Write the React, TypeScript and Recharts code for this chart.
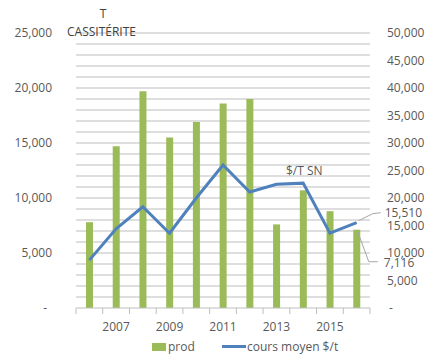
import { ComposedChart, Bar, Line, XAxis, YAxis, ReferenceLine, Legend, LabelList } from "recharts"

const years = ["2006", "2007", "2008", "2009", "2010", "2011", "2012", "2013", "2014", "2015", "2016"]
const prod = [7800, 14700, 19700, 15500, 16900, 18600, 19000, 7600, 10700, 8800, 7116]
const cours = [8700, 14400, 18400, 13600, 20000, 26000, 21100, 22500, 22700, 13600, 15510]
const leftTicks = [0, 1000, 2000, 3000, 4000, 5000, 6000, 7000, 8000, 9000, 10000, 11000, 12000, 13000, 14000, 15000, 16000, 17000, 18000, 19000, 20000, 21000, 22000, 23000, 24000, 25000]
const rightTicks = [0, 5000, 10000, 15000, 20000, 25000, 30000, 35000, 40000, 45000, 50000]

const data = years.map((y, i) => ({ year: y, prod: prod[i], cours: cours[i] }))

const GREEN = "#9BBB59"
const BLUE = "#4F81BD"
const TEXT = "#595959"
const GRID = "#BDBDBD"
const FONT = "'Open Sans', sans-serif"

// plot area is 76..370 wide, 11 categories
const BAND = (370 - 76) / years.length

function fmt(v: number) {
  if (v === 0) return "-"
  return new Intl.NumberFormat("en-US").format(v)
}

function XTick(props: any) {
  const { x, y, index, payload } = props
  const left = x - BAND / 2
  return (
    <g>
      <line x1={left} y1={y} x2={left} y2={y + 6} stroke={GRID} />
      {index === years.length - 1 && <line x1={x + BAND / 2} y1={y} x2={x + BAND / 2} y2={y + 6} stroke={GRID} />}
      {index % 2 === 1 && (
        <text x={x} y={y + 19} dy="0.35em" textAnchor="middle" fill={TEXT} fontSize={12} fontFamily={FONT}>
          {payload.value}
        </text>
      )}
    </g>
  )
}

function LeftTick(props: any) {
  const { x, y, payload } = props
  const v = payload.value
  if (v % 5000 !== 0) return null
  return (
    <text x={v === 0 ? x - 5 : x} y={y} dy="0.35em" textAnchor="end" fill={TEXT} fontSize={12} fontFamily={FONT}>
      {fmt(v)}
    </text>
  )
}

function RightTick(props: any) {
  const { x, y, payload } = props
  const v = payload.value
  return (
    <text x={v === 0 ? x + 2 : x} y={y} dy="0.35em" textAnchor="start" fill={TEXT} fontSize={12} fontFamily={FONT}>
      {fmt(v)}
    </text>
  )
}

function LineEndLabel(props: any) {
  const { x, y, index, value } = props
  if (index !== years.length - 1) return null
  return (
    <g>
      <polyline points={`${x + 2},${y - 2} ${x + 16},${y - 9} ${x + 24},${y - 10}`} fill="none" stroke="#A6A6A6" />
      <text x={x + 28} y={y - 10} dy="0.35em" fill={TEXT} fontSize={12} fontFamily={FONT}>
        {fmt(value)}
      </text>
    </g>
  )
}

function BarEndLabel(props: any) {
  const { x, y, width, index, value } = props
  if (index !== years.length - 1) return null
  const cx = x + width / 2
  return (
    <g>
      <polyline points={`${cx + 1},${y + 2} ${cx + 12},${y + 32} ${cx + 21},${y + 32}`} fill="none" stroke="#A6A6A6" />
      <text x={cx + 27} y={y + 33} dy="0.35em" fill={TEXT} fontSize={12} fontFamily={FONT}>
        {fmt(value)}
      </text>
    </g>
  )
}

function LegendContent() {
  return (
    <div style={{ height: 18, position: "relative", fontFamily: FONT, fontSize: 12, color: TEXT }}>
      <div style={{ position: "absolute", left: 152, top: 5, width: 14, height: 8, background: GREEN }} />
      <div style={{ position: "absolute", left: 168, top: 0, lineHeight: "18px" }}>prod</div>
      <div style={{ position: "absolute", left: 222, top: 7, width: 24, height: 3, background: BLUE }} />
      <div style={{ position: "absolute", left: 247, top: 0, lineHeight: "18px" }}>cours moyen $/t</div>
    </div>
  )
}

export default function App() {
  return (
    <div style={{ position: "absolute", left: 0, top: 0, width: 428, height: 357, background: "#fff" }}>
      <ComposedChart width={428} height={357} data={data} margin={{ top: 33, right: 0, bottom: 1, left: 0 }}>
        <XAxis
          dataKey="year"
          interval={0}
          tickSize={0}
          tickMargin={0}
          tickLine={false}
          axisLine={{ stroke: GRID }}
          height={30}
          tick={<XTick />}
        />
        <YAxis
          yAxisId="left"
          orientation="left"
          domain={[0, 25000]}
          ticks={leftTicks}
          interval={0}
          width={76}
          tickSize={0}
          tickMargin={24}
          tickLine={false}
          axisLine={false}
          tick={<LeftTick />}
        />
        <YAxis
          yAxisId="right"
          orientation="right"
          domain={[0, 50000]}
          ticks={rightTicks}
          interval={0}
          width={58}
          tickSize={0}
          tickMargin={17}
          tickLine={false}
          axisLine={false}
          tick={<RightTick />}
        />
        {/* grid: one line per 1,000 t on the left axis, kept behind the bars */}
        {leftTicks.slice(1).map((v) => (
          <ReferenceLine key={v} yAxisId="left" y={v} stroke={GRID} zIndex={-50} />
        ))}
        <Legend verticalAlign="bottom" content={<LegendContent />} wrapperStyle={{ left: 0, width: 428 }} />
        <Bar yAxisId="left" dataKey="prod" name="prod" fill={GREEN} barSize={7} isAnimationActive={false}>
          <LabelList dataKey="prod" content={<BarEndLabel />} />
        </Bar>
        <Line
          yAxisId="right"
          type="linear"
          dataKey="cours"
          name="cours moyen $/t"
          stroke={BLUE}
          strokeWidth={3}
          dot={false}
          activeDot={false}
          isAnimationActive={false}
        >
          <LabelList dataKey="cours" content={<LineEndLabel />} />
        </Line>
      </ComposedChart>
      <div style={{ position: "absolute", left: 73, top: 5, width: 60, textAlign: "center", fontFamily: FONT, fontSize: 12, color: "#404040", lineHeight: "18px" }}>
        T
      </div>
      <div style={{ position: "absolute", left: 67, top: 23, fontFamily: FONT, fontSize: 12, color: "#404040", lineHeight: "18px", background: "transparent" }}>
        CASSITÉRITE
      </div>
      <div style={{ position: "absolute", left: 286, top: 162, fontFamily: FONT, fontSize: 12, color: TEXT, lineHeight: "18px" }}>
        $/T SN
      </div>
    </div>
  )
}
